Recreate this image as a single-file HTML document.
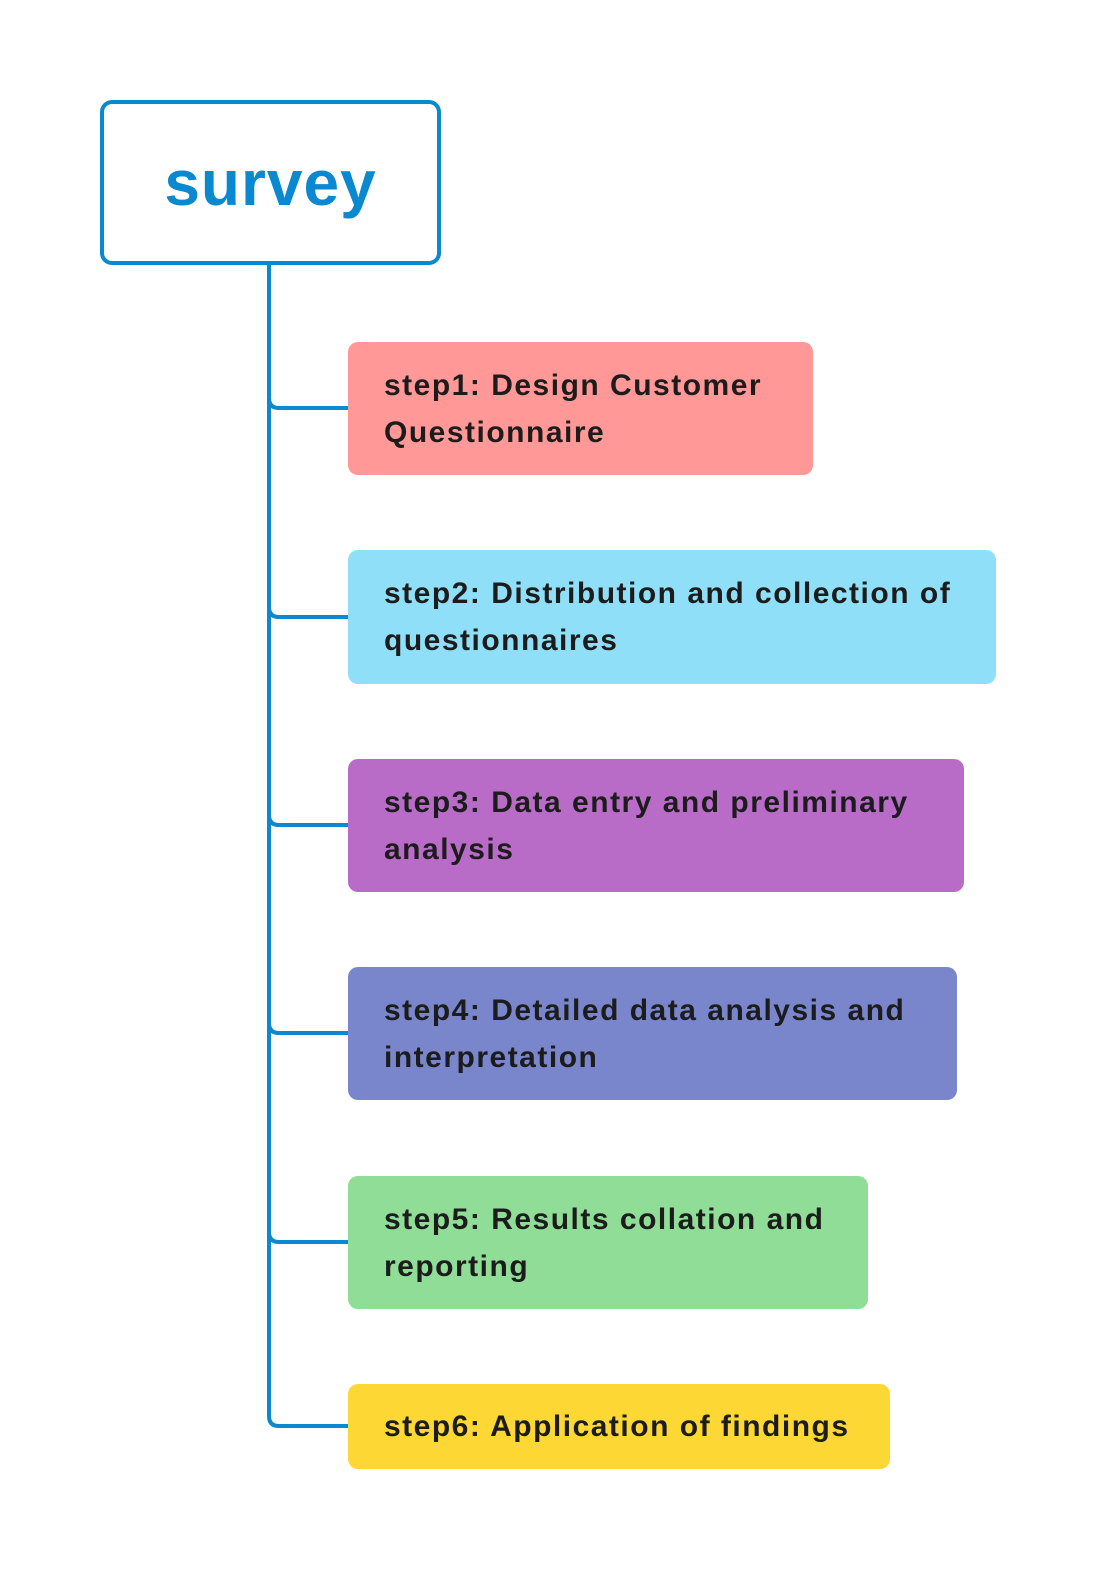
<!DOCTYPE html>
<html><head><meta charset="utf-8"><style>
body{margin:0;width:1114px;height:1596px;background:#fff;position:relative;overflow:hidden;font-family:"Liberation Sans",sans-serif}
.root{position:absolute;left:100px;top:100px;width:333px;height:157px;border:4px solid #0a88d0;border-radius:12px;display:flex;align-items:center;justify-content:center;color:#0a88d0;font-weight:bold;font-size:64px;letter-spacing:1px}
.b{position:absolute;left:348px;border-radius:10px;box-sizing:border-box;padding:20px 20px 0 36px;font-size:30px;line-height:47px;color:#1c1c1c;font-weight:bold;letter-spacing:1.5px;white-space:nowrap}
</style></head><body>
<svg width="1114" height="1596" style="position:absolute;left:0;top:0">
<g fill="none" stroke="#0a88d0" stroke-width="4">
<path d="M269 264 V1416 Q269 1426 279 1426 H348"/>
<path d="M269 398 Q269 408 279 408 H348"/>
<path d="M269 607 Q269 617 279 617 H348"/>
<path d="M269 815 Q269 825 279 825 H348"/>
<path d="M269 1023 Q269 1033 279 1033 H348"/>
<path d="M269 1232 Q269 1242 279 1242 H348"/>
</g></svg>
<div class="root">survey</div>
<div class="b" style="top:342px;width:465px;height:133px;background:#ff9896">step1: Design Customer<br>Questionnaire</div>
<div class="b" style="top:550px;width:648px;height:134px;background:#8fdff8">step2: Distribution and collection of<br>questionnaires</div>
<div class="b" style="top:759px;width:616px;height:133px;background:#b96bc8">step3: Data entry and preliminary<br>analysis</div>
<div class="b" style="top:967px;width:609px;height:133px;background:#7986cb">step4: Detailed data analysis and<br>interpretation</div>
<div class="b" style="top:1176px;width:520px;height:133px;background:#8fdd96">step5: Results collation and<br>reporting</div>
<div class="b" style="top:1384px;width:542px;height:85px;background:#fdd835;padding-top:19px">step6: Application of findings</div>
</body></html>
